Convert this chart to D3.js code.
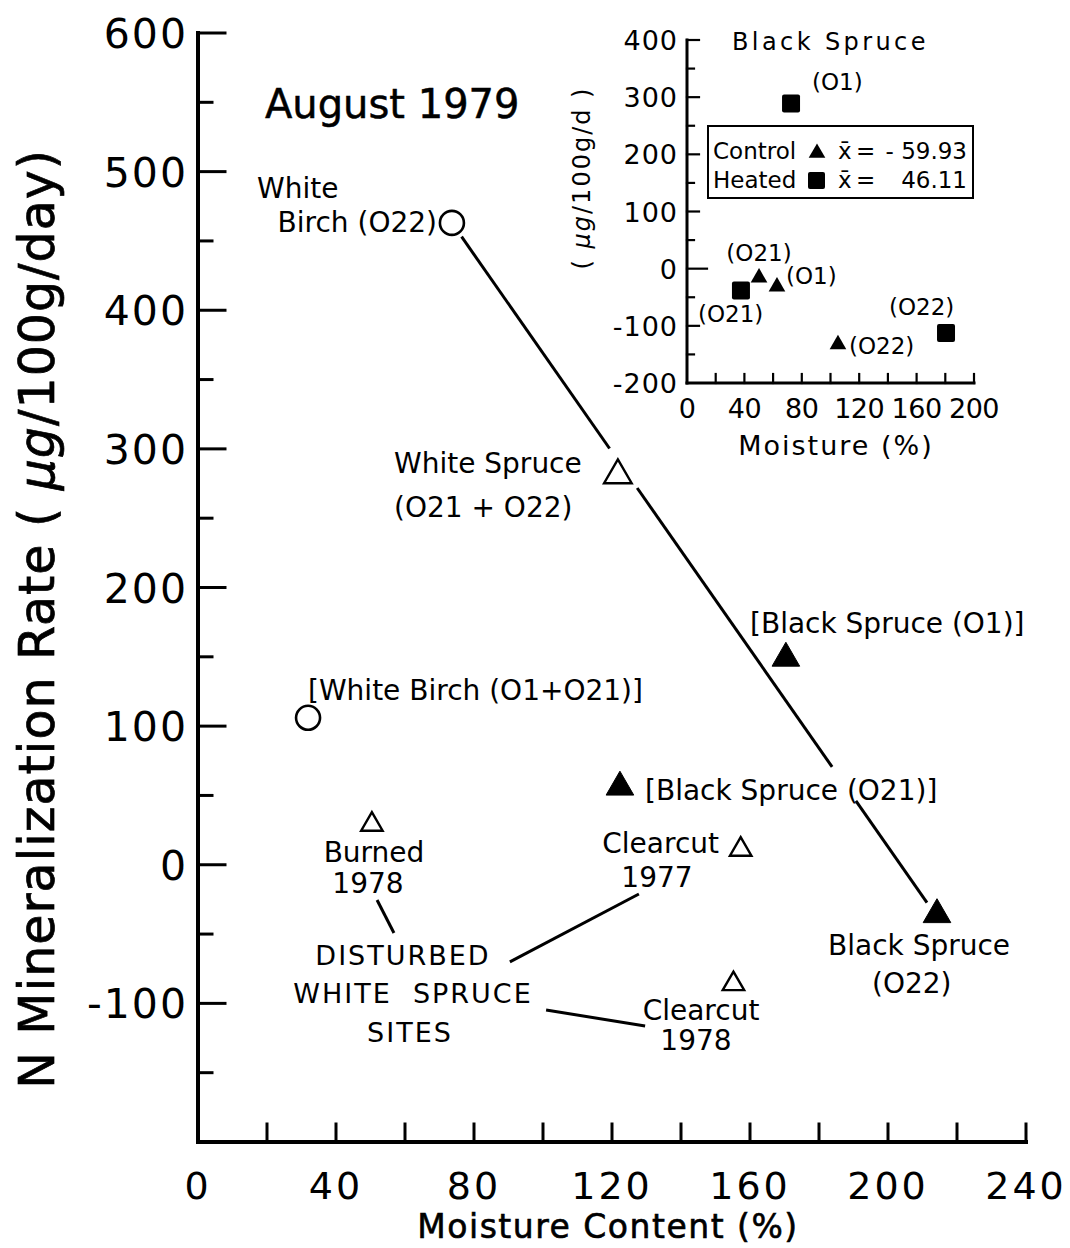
<!DOCTYPE html>
<html>
<head>
<meta charset="utf-8">
<script src="https://cdn.jsdelivr.net/npm/d3@7"></script>
<style>
  html, body { margin: 0; padding: 0; background: #fff; }
  svg { display: block; font-family: "DejaVu Sans", sans-serif; }
  text { fill: #000; }
</style>
</head>
<body>
<svg id="chart" width="1070" height="1248"></svg>
<script>
// ---- Main panel: N mineralization rate vs. moisture content (August 1979) ----
const siteNames = [
  "White Birch (O22)", "White Birch (O1+O21)", "White Spruce (O21+O22)",
  "Black Spruce (O1)", "Black Spruce (O21)", "Black Spruce (O22)",
  "Burned 1978", "Clearcut 1977", "Clearcut 1978"
];
const siteMoisture = [73.6, 31.9, 121.7, 170.4, 122.3, 214.2, 50.4, 157.3, 155.2];
const siteRate     = [463, 106, 281, 149, 56, -36, 29, 11, -86];
const siteMarker   = ["circle", "circle", "openTri", "filledTri", "filledTri", "filledTri",
                      "smallTri", "smallTri", "smallTri"];

const yTickValues = [600, 500, 400, 300, 200, 100, 0, -100];
const xTickValues = [0, 40, 80, 120, 160, 200, 240];

// Fitted line through the undisturbed stands, drawn in pieces around labels
const fitIntercept = 725.1;
const fitSlope = -3.561;
const fitSegments = [[76.4, 119.3], [127.3, 183.8], [190.7, 211.3]];

// Leader lines from the "disturbed white spruce sites" note (moisture %, rate)
const leaderStart = [[51.9, -25.4], [127.8, -21.1], [100.9, -104.8]];
const leaderEnd   = [[56.8, -49.2], [90.4, -70.1], [129.6, -116.3]];

// ---- Inset: black spruce control vs heated plots ----
const insetHorizon    = ["O1", "O21", "O22"];
const controlMoisture = [62.7, 50.2, 105.2];
const controlRate     = [-31.5, -15.7, -132.6];
const heatedMoisture  = [72.5, 37.6, 180.5];
const heatedRate      = [289, -38, -112.67];
const insetYTickValues = [400, 300, 200, 100, 0, -100, -200];
const insetXTickValues = [0, 40, 80, 120, 160, 200];
const controlMean = d3.mean(controlRate);
const heatedMean  = d3.mean(heatedRate);

const svg = d3.select("#chart");

// Scales
const x = d3.scaleLinear().domain([0, 240]).range([198, 1026]);
const y = d3.scaleLinear().domain([-200, 600]).range([1142, 33]);
const xi = d3.scaleLinear().domain([0, 200]).range([687, 974]);
const yi = d3.scaleLinear().domain([-200, 400]).range([383, 40]);

const triPath = size => d3.symbol().type(d3.symbolTriangle).size(size)();
const fmtMean = v => d3.format(".2f")(v).replace("\u2212", "- ");

// ---------- Main axes ----------
const axes = svg.append("g").attr("stroke", "#000").attr("stroke-linecap", "square");
axes.append("line").attr("x1", x(0)).attr("x2", x(0)).attr("y1", y(-200)).attr("y2", y(600)).attr("stroke-width", 4);
axes.append("line").attr("x1", x(0)).attr("x2", x(240)).attr("y1", y(-200)).attr("y2", y(-200)).attr("stroke-width", 4);

// y ticks every 50, longer at the hundreds
d3.range(-150, 601, 50).forEach(v => {
  const len = v % 100 === 0 ? 27 : 14;
  axes.append("line").attr("x1", x(0)).attr("x2", x(0) + len)
    .attr("y1", y(v)).attr("y2", y(v)).attr("stroke-width", 3);
});
// x ticks every 20
d3.range(20, 241, 20).forEach(v => {
  axes.append("line").attr("x1", x(v)).attr("x2", x(v))
    .attr("y1", y(-200)).attr("y2", y(-200) - 18).attr("stroke-width", 3);
});

svg.append("g").selectAll("text").data(yTickValues).join("text")
  .attr("x", 188).attr("y", d => y(d) + 15)
  .attr("text-anchor", "end").attr("font-size", 41).attr("letter-spacing", 2)
  .text(d => d);
svg.append("g").selectAll("text").data(xTickValues).join("text")
  .attr("x", d => x(d)).attr("y", 1199)
  .attr("text-anchor", "middle").attr("font-size", 38).attr("letter-spacing", 3)
  .text(d => d);

// Axis titles
svg.append("text")
  .attr("x", 608).attr("y", 1238).attr("text-anchor", "middle")
  .attr("font-size", 33).attr("letter-spacing", 1.5)
  .attr("stroke", "#000").attr("stroke-width", 0.6)
  .text("Moisture Content (%)");

const yTitle = svg.append("text")
  .attr("transform", "translate(54,619) rotate(-90)")
  .attr("text-anchor", "middle").attr("font-size", 49).attr("letter-spacing", 1)
  .attr("stroke", "#000").attr("stroke-width", 0.7);
yTitle.append("tspan").text("N Mineralization Rate ( ");
yTitle.append("tspan").attr("font-style", "italic").text("μg");
yTitle.append("tspan").text("/100g/day)");

svg.append("text").attr("x", 265).attr("y", 118)
  .attr("font-size", 40).attr("stroke", "#000").attr("stroke-width", 0.5)
  .text("August 1979");

// ---------- Fitted line ----------
svg.append("g").selectAll("line").data(fitSegments).join("line")
  .attr("x1", d => x(d[0])).attr("y1", d => y(fitIntercept + fitSlope * d[0]))
  .attr("x2", d => x(d[1])).attr("y2", d => y(fitIntercept + fitSlope * d[1]))
  .attr("stroke", "#000").attr("stroke-width", 3);

// Leader lines
svg.append("g").selectAll("line").data(d3.range(leaderStart.length)).join("line")
  .attr("x1", i => x(leaderStart[i][0])).attr("y1", i => y(leaderStart[i][1]))
  .attr("x2", i => x(leaderEnd[i][0])).attr("y2", i => y(leaderEnd[i][1]))
  .attr("stroke", "#000").attr("stroke-width", 3);

// ---------- Site markers ----------
const marks = svg.append("g");
siteNames.forEach((name, i) => {
  const cx = x(siteMoisture[i]), cy = y(siteRate[i]);
  const kind = siteMarker[i];
  if (kind === "circle") {
    marks.append("circle").attr("cx", cx).attr("cy", cy).attr("r", 12)
      .attr("fill", "#fff").attr("stroke", "#000").attr("stroke-width", 2.6);
  } else {
    const size = kind === "smallTri" ? 200 : 330;
    marks.append("path").attr("d", triPath(size))
      .attr("transform", `translate(${cx},${cy})`)
      .attr("fill", kind === "filledTri" ? "#000" : "#fff")
      .attr("stroke", "#000").attr("stroke-width", kind === "filledTri" ? 1 : 2.4)
      .attr("stroke-linejoin", "miter");
  }
});

// ---------- Site labels ----------
const lab = svg.append("g").attr("font-size", 28);
function label(txt, px, py, anchor, extra) {
  const t = lab.append("text").attr("x", px).attr("y", py)
    .attr("text-anchor", anchor || "start").text(txt);
  if (extra) extra(t);
  return t;
}
label("White", 257, 198);
label("Birch (O22)", 437, 232, "end");
label("White Spruce", 394, 473);
label("(O21 + O22)", 394, 517);
label("[White Birch (O1+O21)]", 308, 700);
label("[Black Spruce (O1)]", 750, 633);
label("[Black Spruce (O21)]", 645, 800);
label("Black Spruce", 828, 955);
label("(O22)", 872, 993);
label("Burned", 374, 862, "middle");
label("1978", 368, 893, "middle");
label("Clearcut", 719, 853, "end");
label("1977", 657, 887, "middle");
label("Clearcut", 701, 1020, "middle");
label("1978", 696, 1050, "middle");
const noteSpacing = t => t.attr("letter-spacing", 2).attr("font-size", 27);
label("DISTURBED", 403, 965, "middle", noteSpacing);
label("WHITE  SPRUCE", 413, 1003, "middle", t => { noteSpacing(t); t.style("white-space", "pre"); });
label("SITES", 410, 1042, "middle", noteSpacing);

// ---------- Inset ----------
const inset = svg.append("g");
const ia = inset.append("g").attr("stroke", "#000").attr("stroke-linecap", "square");
ia.append("line").attr("x1", xi(0)).attr("x2", xi(0)).attr("y1", yi(-200)).attr("y2", yi(400)).attr("stroke-width", 3);
ia.append("line").attr("x1", xi(0)).attr("x2", xi(200)).attr("y1", yi(-200)).attr("y2", yi(-200)).attr("stroke-width", 3);
d3.range(-150, 401, 50).forEach(v => {
  const len = v === 0 ? 20 : (v % 100 === 0 ? 12 : 7);
  ia.append("line").attr("x1", xi(0)).attr("x2", xi(0) + len)
    .attr("y1", yi(v)).attr("y2", yi(v)).attr("stroke-width", 2.2);
});
d3.range(20, 201, 20).forEach(v => {
  ia.append("line").attr("x1", xi(v)).attr("x2", xi(v))
    .attr("y1", yi(-200)).attr("y2", yi(-200) - 9).attr("stroke-width", 2.2);
});

inset.append("g").selectAll("text").data(insetYTickValues).join("text")
  .attr("x", 678).attr("y", d => yi(d) + 10)
  .attr("text-anchor", "end").attr("font-size", 27).attr("letter-spacing", 1)
  .text(d => d);
inset.append("g").selectAll("text").data(insetXTickValues).join("text")
  .attr("x", d => xi(d)).attr("y", 418)
  .attr("text-anchor", "middle").attr("font-size", 27).attr("letter-spacing", -0.5)
  .text(d => d);

inset.append("text").attr("x", 836).attr("y", 455).attr("text-anchor", "middle")
  .attr("font-size", 27).attr("letter-spacing", 2).text("Moisture (%)");
const iyt = inset.append("text").attr("transform", "translate(590,178) rotate(-90)")
  .attr("text-anchor", "middle").attr("font-size", 24).attr("letter-spacing", 2);
iyt.append("tspan").text("( ");
iyt.append("tspan").attr("font-style", "italic").text("μg");
iyt.append("tspan").text("/100g/d )");
inset.append("text").attr("x", 732).attr("y", 50)
  .attr("font-size", 24).attr("letter-spacing", 3.4).text("Black Spruce");

// Inset markers
inset.append("g").selectAll("rect").data(insetHorizon).join("rect")
  .attr("x", (d, i) => xi(heatedMoisture[i]) - 9).attr("y", (d, i) => yi(heatedRate[i]) - 9)
  .attr("width", 18).attr("height", 18).attr("rx", 2).attr("fill", "#000");
inset.append("g").selectAll("path").data(insetHorizon).join("path")
  .attr("d", triPath(120))
  .attr("transform", (d, i) => `translate(${xi(controlMoisture[i])},${yi(controlRate[i])})`)
  .attr("fill", "#000");

// Inset point labels (pixel offsets from each marker)
const heatedLabelOffset  = [[21, -13, "start"], [-43, 32, "start"], [-57, -18, "start"]];
const controlLabelOffset = [[9, -3, "start"], [0, -17, "middle"], [11, 10, "start"]];
const il = inset.append("g").attr("font-size", 23);
insetHorizon.forEach((h, i) => {
  il.append("text").attr("x", xi(heatedMoisture[i]) + heatedLabelOffset[i][0])
    .attr("y", yi(heatedRate[i]) + heatedLabelOffset[i][1])
    .attr("text-anchor", heatedLabelOffset[i][2]).text(`(${h})`);
  il.append("text").attr("x", xi(controlMoisture[i]) + controlLabelOffset[i][0])
    .attr("y", yi(controlRate[i]) + controlLabelOffset[i][1])
    .attr("text-anchor", controlLabelOffset[i][2]).text(`(${h})`);
});

// Legend box with group means
const lg = inset.append("g").attr("font-size", 23);
lg.append("rect").attr("x", 708).attr("y", 126).attr("width", 265).attr("height", 72)
  .attr("fill", "#fff").attr("stroke", "#000").attr("stroke-width", 2);
lg.append("text").attr("x", 713).attr("y", 159).text("Control");
lg.append("path").attr("d", triPath(120)).attr("transform", "translate(817,153)").attr("fill", "#000");
lg.append("text").attr("x", 838).attr("y", 159).text("x\u0304");
lg.append("text").attr("x", 856).attr("y", 159).text("=");
lg.append("text").attr("x", 967).attr("y", 159).attr("text-anchor", "end")
  .text(fmtMean(controlMean));
lg.append("text").attr("x", 713).attr("y", 188).text("Heated");
lg.append("rect").attr("x", 808).attr("y", 172).attr("width", 17).attr("height", 17).attr("rx", 2).attr("fill", "#000");
lg.append("text").attr("x", 838).attr("y", 188).text("x\u0304");
lg.append("text").attr("x", 856).attr("y", 188).text("=");
lg.append("text").attr("x", 967).attr("y", 188).attr("text-anchor", "end")
  .text(fmtMean(heatedMean));
</script>
</body>
</html>
